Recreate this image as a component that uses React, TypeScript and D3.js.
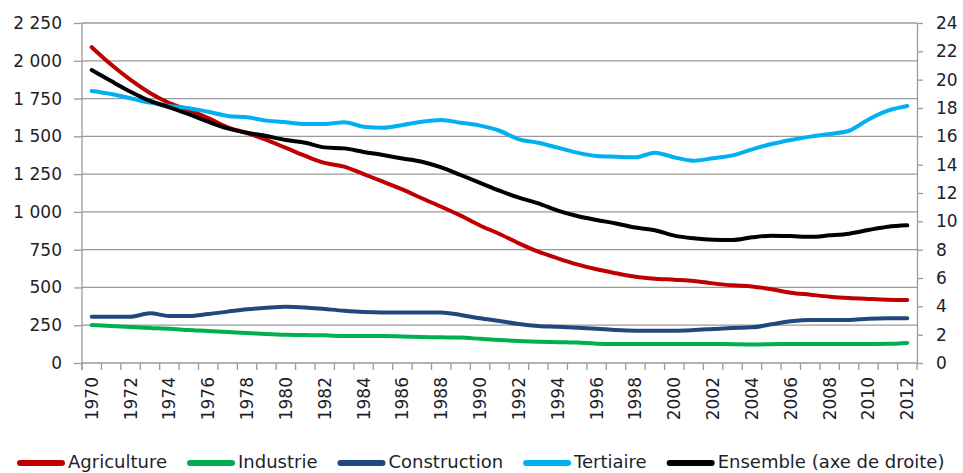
import { useEffect, useRef } from "react";
import * as d3 from "d3";

const years = [
  1970, 1971, 1972, 1973, 1974, 1975, 1976, 1977, 1978, 1979, 1980, 1981, 1982, 1983, 1984,
  1985, 1986, 1987, 1988, 1989, 1990, 1991, 1992, 1993, 1994, 1995, 1996, 1997, 1998, 1999,
  2000, 2001, 2002, 2003, 2004, 2005, 2006, 2007, 2008, 2009, 2010, 2011, 2012,
];

// milliers d'emplois (axe de gauche)
const agriculture = [
  2090, 1975, 1873, 1787, 1720, 1674, 1621, 1560, 1522, 1476, 1423, 1370, 1324, 1300, 1250,
  1200, 1149, 1090, 1034, 975, 910, 854, 792, 737, 693, 653, 620, 594, 571, 558,
  551, 543, 527, 514, 507, 488, 465, 452, 439, 430, 424, 419, 417,
];
const industrie = [
  251, 245, 238, 232, 227, 218, 212, 205, 199, 192, 187, 185, 183, 179, 178,
  178, 176, 172, 170, 168, 160, 152, 146, 141, 138, 135, 128, 126, 126, 126,
  126, 126, 126, 124, 123, 124, 126, 125, 125, 125, 126, 127, 133,
];
const construction = [
  306, 306, 306, 329, 311, 311, 324, 340, 355, 366, 373, 368, 357, 346, 338,
  335, 335, 335, 335, 318, 296, 278, 258, 245, 240, 234, 227, 218, 214, 214,
  214, 218, 225, 232, 236, 256, 276, 285, 285, 285, 293, 296, 296,
];
const tertiaire = [
  1800, 1780, 1752, 1723, 1701, 1686, 1663, 1635, 1626, 1604, 1593, 1582, 1582, 1593, 1564,
  1557, 1575, 1597, 1608, 1590, 1571, 1537, 1480, 1458, 1425, 1392, 1370, 1365, 1361, 1392,
  1361, 1339, 1355, 1374, 1414, 1449, 1476, 1498, 1516, 1537, 1612, 1670, 1701,
];
// axe de droite
const ensemble = [
  20.68, 19.9, 19.15, 18.5, 18.05, 17.57, 17.03, 16.56, 16.25, 16.02, 15.74, 15.55, 15.22, 15.15, 14.9,
  14.68, 14.44, 14.21, 13.81, 13.27, 12.72, 12.16, 11.67, 11.27, 10.76, 10.38, 10.1, 9.85, 9.56, 9.37,
  8.99, 8.8, 8.7, 8.68, 8.87, 8.99, 8.96, 8.91, 9.01, 9.13, 9.39, 9.62, 9.72,
];

const leftTicks = [0, 250, 500, 750, 1000, 1250, 1500, 1750, 2000, 2250];
const rightTicks = [0, 2, 4, 6, 8, 10, 12, 14, 16, 18, 20, 22, 24];
const labelYears = years.filter((y) => (y - 1970) % 2 === 0);

const seriesNames = ["Agriculture", "Industrie", "Construction", "Tertiaire", "Ensemble (axe de droite)"];
const seriesValues = [agriculture, industrie, construction, tertiaire, ensemble];
const seriesColors = ["#c00000", "#00b050", "#1f497d", "#00b0f0", "#000000"];

const W = 963;
const H = 473;
const plot = { left: 82, right: 917, top: 23, bottom: 363 };
const font = "'DejaVu Sans', sans-serif";
const textColor = "#1e1e2a";
const gridColor = "#9a9a9a";

const fr = d3.formatLocale({ decimal: ",", thousands: " ", grouping: [3], currency: ["", ""] });
const fmt = fr.format(",d");

export default function App() {
  const ref = useRef<SVGSVGElement>(null);

  useEffect(() => {
    const svg = d3.select(ref.current);
    svg.selectAll("*").remove();

    const x = d3.scaleBand<number>().domain(years).range([plot.left, plot.right]);
    const cx = (yr: number) => (x(yr) ?? 0) + x.bandwidth() / 2;
    const yL = d3.scaleLinear().domain([0, 2250]).range([plot.bottom, plot.top]);
    const yR = d3.scaleLinear().domain([0, 24]).range([plot.bottom, plot.top]);

    // grille
    svg.append("g")
      .selectAll("line")
      .data(leftTicks)
      .join("line")
      .attr("x1", plot.left)
      .attr("x2", plot.right)
      .attr("y1", (d) => yL(d))
      .attr("y2", (d) => yL(d))
      .attr("stroke", gridColor)
      .attr("stroke-width", 1.3);

    // axe gauche
    const gl = svg.append("g")
      .attr("transform", `translate(${plot.left},0)`)
      .call(d3.axisLeft(yL).tickValues(leftTicks).tickSize(8).tickSizeOuter(0).tickPadding(12).tickFormat((d) => fmt(+d)));
    gl.select(".domain").remove();
    gl.selectAll(".tick line").attr("stroke", gridColor).attr("stroke-width", 1.3);
    gl.selectAll("text").attr("font-family", font).attr("font-size", 17).attr("fill", textColor);
    svg.append("line")
      .attr("x1", plot.left).attr("x2", plot.left)
      .attr("y1", plot.top).attr("y2", plot.bottom + 7)
      .attr("stroke", gridColor).attr("stroke-width", 1.3);

    // axe droit
    const gr = svg.append("g")
      .attr("transform", `translate(${plot.right},0)`)
      .call(d3.axisRight(yR).tickValues(rightTicks).tickSize(6).tickSizeOuter(0).tickPadding(13));
    gr.select(".domain").attr("stroke", gridColor).attr("stroke-width", 1.3);
    gr.selectAll(".tick line").attr("stroke", gridColor).attr("stroke-width", 1.3);
    gr.selectAll("text").attr("font-family", font).attr("font-size", 17).attr("fill", textColor);

    // axe des abscisses : graduations entre les catégories
    const bounds = [...years.map((yr) => x(yr) ?? 0), plot.right];
    svg.append("g")
      .selectAll("line")
      .data(bounds)
      .join("line")
      .attr("x1", (d) => d)
      .attr("x2", (d) => d)
      .attr("y1", plot.bottom)
      .attr("y2", plot.bottom + 7)
      .attr("stroke", gridColor)
      .attr("stroke-width", 1.3);

    svg.append("g")
      .selectAll("text")
      .data(labelYears)
      .join("text")
      .attr("transform", (d) => `translate(${cx(d)},${plot.bottom + 14}) rotate(-90)`)
      .attr("text-anchor", "end")
      .attr("dominant-baseline", "central")
      .attr("font-family", font)
      .attr("font-size", 17)
      .attr("fill", textColor)
      .text((d) => String(d));

    // courbes
    seriesValues.forEach((vals, i) => {
      const yS = i === 4 ? yR : yL;
      const line = d3.line<number>()
        .x((_, j) => cx(years[j]))
        .y((v) => yS(v))
        .curve(d3.curveMonotoneX);
      svg.append("path")
        .attr("d", line(vals))
        .attr("fill", "none")
        .attr("stroke", seriesColors[i])
        .attr("stroke-width", 4)
        .attr("stroke-linejoin", "round")
        .attr("stroke-linecap", "round");
    });

    // légende
    const legendY = 463;
    let lx = 17;
    seriesNames.forEach((name, i) => {
      svg.append("line")
        .attr("x1", lx + 3).attr("x2", lx + 45)
        .attr("y1", legendY).attr("y2", legendY)
        .attr("stroke", seriesColors[i])
        .attr("stroke-width", 6)
        .attr("stroke-linecap", "round");
      const t = svg.append("text")
        .attr("x", lx + 51)
        .attr("y", legendY + 5)
        .attr("font-family", font)
        .attr("font-size", 18)
        .attr("fill", textColor)
        .text(name);
      const w = (t.node() as SVGTextElement).getComputedTextLength();
      lx = lx + 51 + w + 20;
    });
  }, []);

  return (
    <svg
      ref={ref}
      width={W}
      height={H}
      viewBox={`0 0 ${W} ${H}`}
      style={{ position: "absolute", left: 0, top: 0, background: "#fff" }}
    />
  );
}
